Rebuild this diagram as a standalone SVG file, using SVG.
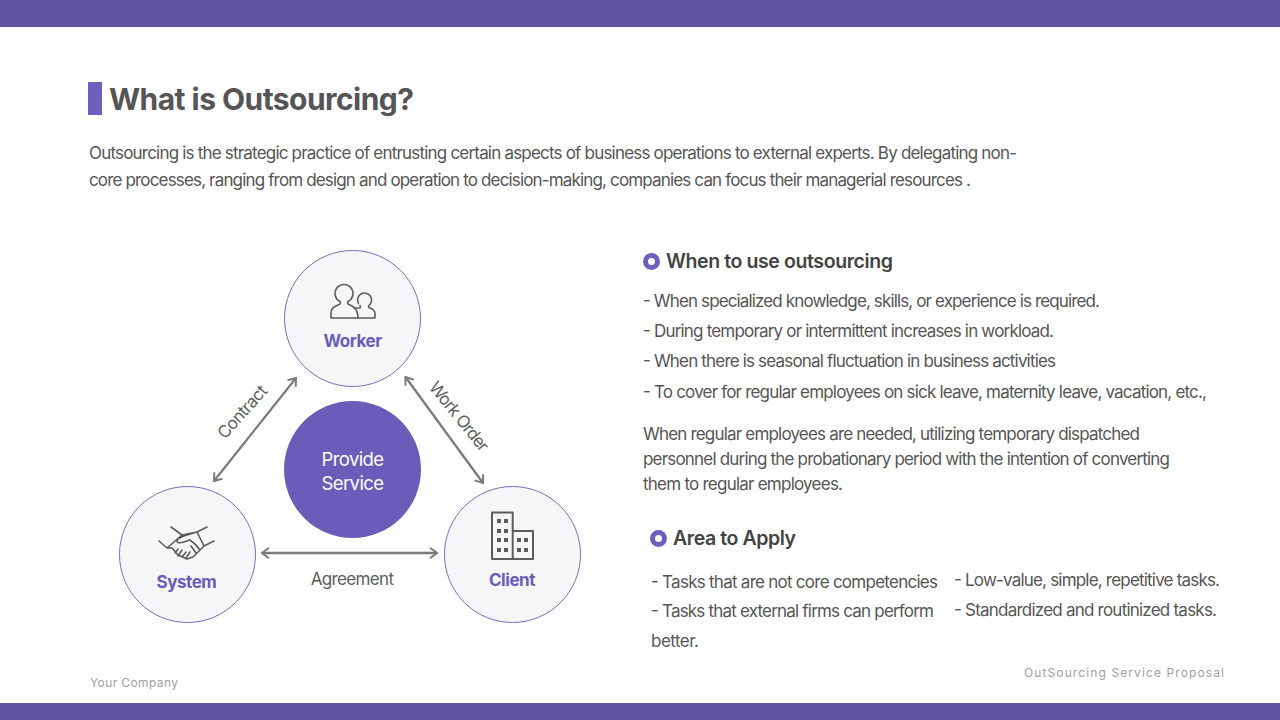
<svg xmlns="http://www.w3.org/2000/svg" width="1280" height="720" viewBox="0 0 1280 720">
<defs>
<marker id="arr" viewBox="0 0 12 12" refX="10.5" refY="6" markerWidth="12" markerHeight="12" markerUnits="userSpaceOnUse" orient="auto-start-reverse"><path d="M3.500 .8 L10.500 6 L3.500 11.200" fill="none" stroke="#7a7a7a" stroke-width="2"/></marker>
</defs>
<style>
text{font-family:Inter,"Noto Sans","Liberation Sans",sans-serif}
.b{font-size:17px;fill:#555}
.h{font-size:19.5px;font-weight:600;fill:#434343}
.n{fill:#f6f6f9;stroke:#7a6cc0;stroke-width:1}
.nl{font-size:17px;font-weight:700;fill:#6a5cb8;text-anchor:middle;letter-spacing:-.45px}
.ic{fill:none;stroke:#5c5c5c;stroke-width:1.6;stroke-linejoin:round;stroke-linecap:round}
.c{stroke:#7a7a7a;stroke-width:2.3;fill:none;marker-start:url(#arr);marker-end:url(#arr)}
.cl{font-size:17px;fill:#5e5e5e;text-anchor:middle;letter-spacing:-.65px}
.f{font-size:12px;fill:#a0a0a0}
.pc{font-size:18.500px;fill:#fff;text-anchor:middle;letter-spacing:-.6px}
</style>
<rect width="1280" height="720" fill="#fff"/>
<rect width="1280" height="27" fill="#5f54a0"/>
<rect y="703" width="1280" height="17" fill="#5f54a0"/>
<rect x="88" y="82" width="14" height="33" fill="#6e5fbf"/>
<text x="109" y="109.500" font-size="30" font-weight="700" fill="#555" textLength="305" lengthAdjust="spacing">What is Outsourcing?</text>
<text class="b" x="89" y="158.500" textLength="928">Outsourcing is the strategic practice of entrusting certain aspects of business operations to external experts. By delegating non-</text>
<text class="b" x="89" y="185.500" textLength="882">core processes, ranging from design and operation to decision-making, companies can focus their managerial resources .</text>
<g id="connectors">
<line class="c" x1="214" y1="481" x2="296" y2="378"/>
<line class="c" x1="405.500" y1="377" x2="483" y2="483"/>
<line class="c" x1="262" y1="553" x2="437" y2="553"/>
</g>
<text class="cl" transform="translate(242 412) rotate(-48)" x="0" y="6">Contract</text>
<text class="cl" transform="translate(459 416) rotate(51)" x="0" y="6" style="letter-spacing:-.95px">Work Order</text>
<text class="cl" x="352" y="584.500">Agreement</text>
<g id="center"><circle cx="352.500" cy="469.500" r="68.500" fill="#6b5cb9"/>
<text class="pc" x="352.500" y="466">Provide</text>
<text class="pc" x="352.500" y="490">Service</text></g>
<g id="worker"><circle class="n" cx="352.500" cy="318.500" r="68"/>
<path class="ic" d="M331 318V313Q331 308 336 306L340 304Q341 303 340 301.500A9 9 0 1 1 348 301.500Q347 303 348 304L352 306Q358 309 358 318Z"/>
<path class="ic" d="M358 318H375V314Q375 310 371 308.500L369 307.500Q368 307 369 305.500A7 7 0 1 0 358.500 303.500M360 305.500Q361 307 360 308L354 308"/>
<text class="nl" x="352.500" y="347">Worker</text></g>
<g id="system"><circle class="n" cx="187.500" cy="554.500" r="68"/>
<path class="ic" d="M159 541L167 548L172 548M171 527L182 535L167 548M207 527L197 532L204 546L214 541M182 535L197 532C189 534 177 538 177 541C177 545 186 541 190 540C193 542 198 547 200 550L193 557L187 559L178 555L172 548M204 546L200 550M178 549L175 553M182 550L178 556M186 552L182 557M190 552L186 558M191 546L196 553"/>
<text class="nl" x="186.500" y="587.500">System</text></g>
<g id="client"><circle class="n" cx="512.500" cy="554.500" r="68"/>
<path class="ic" d="M492 559V512.500H512.700V559ZM512.700 531H533V559H512.700Z" style="stroke-width:2;stroke-linecap:butt"/>
<path d="M497 519h4v4h-4zM504 519h4v4h-4zM497 529h4v4h-4zM504 529h4v4h-4zM497 538h4v4h-4zM504 538h4v4h-4zM497 548h4v4h-4zM504 548h4v4h-4zM517 538h4v4h-4zM524 538h4v4h-4zM517 548h4v4h-4zM524 548h4v4h-4z" fill="#5c5c5c"/>
<text class="nl" x="512" y="585.500">Client</text></g>
<circle cx="651.500" cy="261.500" r="6" fill="none" stroke="#6e5fbf" stroke-width="5"/>
<text class="h" x="666" y="268" textLength="227">When to use outsourcing</text>
<text class="b" x="643" y="307" textLength="457">- When specialized knowledge, skills, or experience is required.</text>
<text class="b" x="643" y="337" textLength="411">- During temporary or intermittent increases in workload.</text>
<text class="b" x="643" y="367" textLength="413">- When there is seasonal fluctuation in business activities</text>
<text class="b" x="643" y="397.500" textLength="564">- To cover for regular employees on sick leave, maternity leave, vacation, etc.,</text>
<text class="b" x="643" y="439.500" textLength="497">When regular employees are needed, utilizing temporary dispatched</text>
<text class="b" x="643" y="464.500" textLength="527">personnel during the probationary period with the intention of converting</text>
<text class="b" x="643" y="489.500" textLength="200">them to regular employees.</text>
<circle cx="658.500" cy="538.500" r="6" fill="none" stroke="#6e5fbf" stroke-width="5"/>
<text class="h" x="673" y="545" textLength="123">Area to Apply</text>
<text class="b" x="651" y="587.500" textLength="287">- Tasks that are not core competencies</text>
<text class="b" x="651" y="617" textLength="283">- Tasks that external firms can perform</text>
<text class="b" x="651" y="647" textLength="48">better.</text>
<text class="b" x="954" y="586" textLength="266">- Low-value, simple, repetitive tasks.</text>
<text class="b" x="954" y="616" textLength="263">- Standardized and routinized tasks.</text>
<text class="f" x="90" y="687" textLength="88">Your Company</text>
<text class="f" x="1024" y="677" textLength="200">OutSourcing Service Proposal</text>
</svg>
